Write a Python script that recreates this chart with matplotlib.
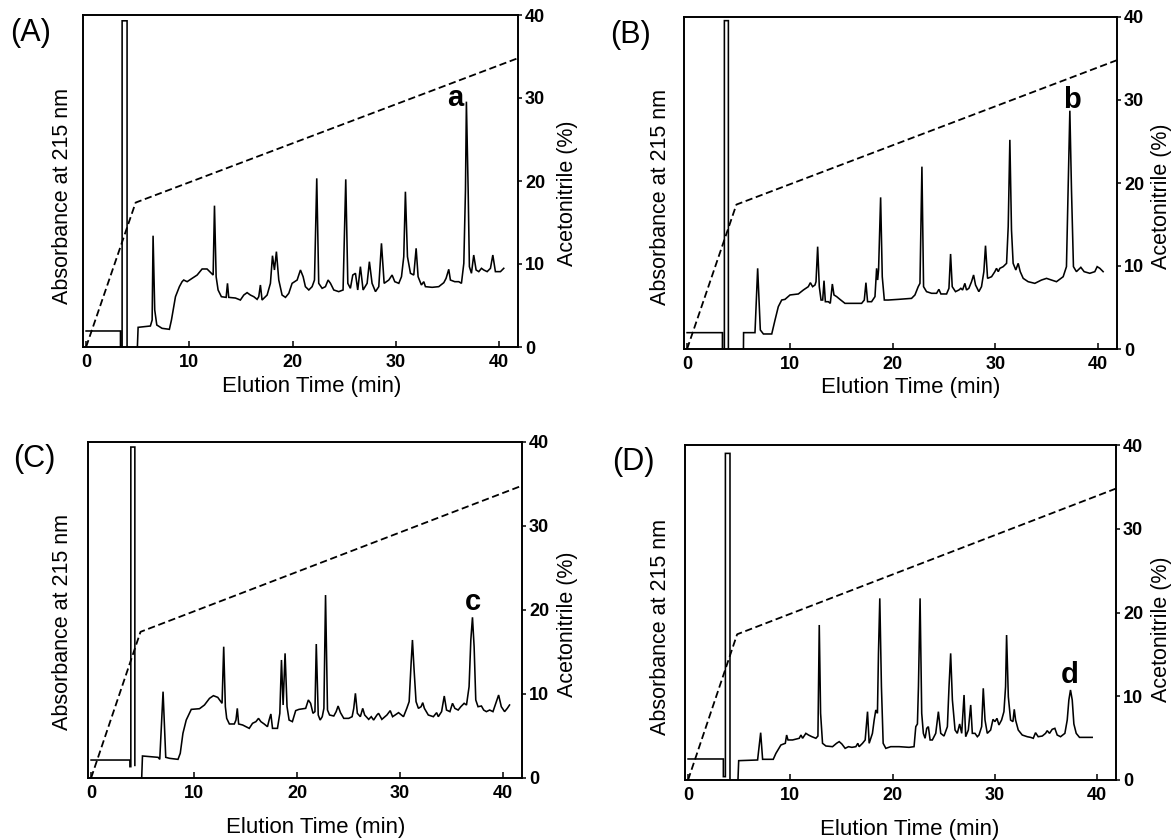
import numpy as np
import matplotlib
matplotlib.use("Agg")
import matplotlib.pyplot as plt

plt.rcParams['font.family'] = ['Liberation Sans', 'DejaVu Sans']

W, H = 1172, 840

# ---------------- data (elution time in min, absorbance in arbitrary units on 0-40 scale) -------------
time_A = [0, 3.33, 3.33, 3.49, 3.49, 3.97, 3.97, 4.94, 5.04, 6.23, 6.40, 6.49, 6.65, 6.85, 7.36, 8.07,
          8.27, 8.66, 9.04, 9.30, 9.46, 9.79, 10.27, 10.76, 11.24, 11.72, 12.14, 12.31, 12.44, 12.60,
          12.79, 13.11, 13.57, 13.70, 13.82, 14.47, 14.95, 15.28, 15.60, 15.92, 16.25, 16.57, 16.73,
          16.89, 17.05, 17.54, 17.86, 18.06, 18.25, 18.44, 18.67, 18.99, 19.32, 19.64, 19.96, 20.45,
          20.77, 21.03, 21.25, 21.58, 21.90, 22.13, 22.35, 22.54, 22.87, 23.19, 23.45, 23.68, 24.00,
          24.48, 24.90, 25.16, 25.36, 25.61, 25.84, 26.10, 26.32, 26.58, 26.84, 27.23, 27.45, 27.71,
          28.04, 28.36, 28.62, 28.88, 29.33, 29.65, 29.91, 30.30, 30.56, 30.78, 30.94, 31.14, 31.43,
          31.75, 31.98, 32.17, 32.49, 32.72, 32.88, 33.53, 34.17, 34.66, 34.88, 35.14, 35.30, 35.72,
          36.11, 36.37, 36.60, 36.76, 36.85, 37.02, 37.14, 37.34, 37.56, 37.79, 38.05, 38.31, 38.53,
          38.86, 39.18, 39.41, 39.66, 40.15, 40.47]
abs_A = [1.93, 1.93, -1, -1, 39.3, 39.3, -1, -1, 2.37, 2.53, 3.25, 13.41, 4.46, 2.65, 2.25, 2.13,
         3.25, 6.06, 7.27, 7.87, 8.07, 7.87, 8.27, 8.67, 9.40, 9.40, 8.88, 8.67, 17.03, 8.47,
         6.87, 6.06, 5.98, 7.67, 5.98, 5.90, 5.66, 6.26, 6.55, 6.26, 6.06, 5.74, 6.06,
         7.47, 5.66, 6.26, 7.67, 11.00, 9.28, 11.49, 8.07, 6.26, 5.98, 6.47, 7.67, 8.07,
         9.28, 8.47, 7.27, 6.87, 7.27, 8.07, 20.32, 7.67, 7.07, 7.27, 8.07, 7.67, 6.87,
         6.67, 6.87, 20.20, 7.67, 7.07, 8.67, 8.88, 6.87, 9.68, 6.87, 7.67, 10.28, 7.67,
         6.67, 7.27, 12.49, 7.67, 8.07, 8.67, 7.87, 7.67, 8.47, 10.88, 18.71, 10.88, 8.88,
         8.67, 11.89, 8.47, 7.47, 7.87, 7.27, 7.19, 7.27, 7.75, 8.27, 9.36, 8.07, 7.87,
         7.87, 7.67, 10.08, 18.92, 29.56, 18.92, 9.68, 8.88, 11.08, 9.28, 9.08, 9.48, 9.28,
         9.08, 9.48, 11.08, 9.08, 9.08, 9.48]

time_B = [0, 3.44, 3.44, 3.63, 3.63, 4.02, 4.02, 5.48, 5.50, 6.61, 6.87, 7.13, 7.43, 8.24, 8.56,
          8.88, 9.21, 9.53, 10.02, 10.83, 11.32, 11.80, 12.00, 12.22, 12.45, 12.55, 12.71, 12.87,
          13.04, 13.20, 13.33, 13.46, 13.75, 13.94, 14.14, 14.30, 14.56, 14.88, 15.37, 16.02, 16.99,
          17.25, 17.41, 17.57, 17.96, 18.29, 18.45, 18.55, 18.64, 18.84, 19.00, 19.20, 19.58, 20.56,
          21.85, 22.18, 22.50, 22.67, 22.86, 23.02, 23.31, 23.80, 24.29, 24.51, 24.71, 25.26, 25.49,
          25.65, 25.81, 26.13, 26.46, 26.65, 26.82, 27.04, 27.20, 27.43, 27.69, 27.89, 28.08, 28.40,
          28.66, 28.89, 29.05, 29.25, 29.64, 29.96, 30.12, 30.29, 30.45, 30.77, 31.10, 31.26, 31.42,
          31.58, 31.74, 32.00, 32.23, 32.43, 32.72, 33.20, 33.85, 34.50, 34.99, 35.47, 35.96, 36.61,
          36.93, 37.09, 37.26, 37.42, 37.61, 37.90, 38.33, 38.65, 39.20, 39.69, 39.92, 40.18, 40.50]
abs_B = [1.97, 1.97, -1, -1, 39.56, 39.56, -1, -1, 1.97, 1.97, 9.72, 2.29, 1.81, 1.81, 3.49,
         5.10, 5.90, 5.98, 6.51, 6.63, 7.11, 7.51, 7.99, 7.51, 7.71, 8.11, 12.33, 7.51,
         5.90, 5.90, 8.23, 5.70, 5.70, 5.50, 7.83, 6.51, 6.31, 5.98, 5.50, 5.50, 5.50,
         5.90, 7.99, 5.70, 5.70, 6.31, 9.72, 8.31, 9.52, 18.27, 8.71, 5.90, 5.90, 5.98,
         6.10, 6.51, 7.51, 7.91, 21.97, 7.51, 6.91, 6.71, 6.71, 7.19, 6.63, 6.63, 7.31,
         11.45, 7.51, 6.91, 7.11, 7.31, 7.11, 7.91, 7.11, 7.31, 8.11, 8.92, 7.71, 6.91,
         7.51, 9.32, 12.45, 8.51, 8.71, 9.32, 9.72, 9.32, 9.72, 9.92, 10.32, 14.74, 25.2,
         14.34, 10.32, 9.52, 10.32, 9.32, 8.51, 8.11, 7.91, 8.31, 8.51, 8.31, 8.11, 8.71,
         9.92, 19.16, 28.71, 19.16, 9.92, 9.32, 9.84, 9.32, 9.12, 9.32, 9.92, 9.72, 9.32]

time_C = [0, 3.77, 3.77, 3.86, 3.86, 4.25, 4.25, 4.25, 4.90, 4.99, 6.51, 6.67, 6.99, 7.25, 7.63,
          8.44, 8.66, 8.92, 9.24, 9.73, 10.53, 11.01, 11.50, 11.88, 12.30, 12.72, 12.88, 13.04,
          13.17, 13.43, 13.91, 14.07, 14.20, 14.33, 14.72, 15.36, 15.68, 16.01, 16.26, 16.49, 16.81,
          17.13, 17.29, 17.46, 17.62, 18.10, 18.33, 18.49, 18.65, 18.84, 19.03, 19.23, 19.55, 19.87,
          20.19, 20.84, 21.10, 21.32, 21.55, 21.74, 21.87, 22.06, 22.25, 22.45, 22.61, 22.77, 22.96,
          23.16, 23.57, 23.80, 23.99, 24.22, 24.54, 25.02, 25.35, 25.51, 25.67, 25.86, 26.15, 26.38,
          26.57, 26.96, 27.21, 27.44, 27.76, 27.92, 28.24, 28.73, 29.05, 29.28, 29.53, 29.86, 30.34,
          30.66, 30.89, 31.08, 31.21, 31.37, 31.56, 31.79, 32.05, 32.21, 32.37, 32.75, 33.24, 33.56,
          33.72, 34.04, 34.30, 34.52, 34.85, 35.10, 35.33, 35.65, 35.91, 36.23, 36.46, 36.71, 36.88,
          37.04, 37.20, 37.36, 37.58, 37.91, 38.13, 38.39, 38.71, 39.03, 39.36, 39.58, 39.84, 40.16,
          40.42, 40.64]
abs_C = [2.14, 2.14, 1.35, 1.35, 39.4, 39.4, 1.5, np.nan, -0.5, 2.62, 2.46, 2.22, 10.28, 2.46, 2.34,
         2.22, 2.94, 5.32, 6.90, 8.17, 8.25, 8.69, 9.48, 9.80, 9.60, 8.89, 15.63, 8.49,
         7.10, 6.43, 6.43, 6.90, 8.29, 6.43, 6.31, 5.91, 6.51, 6.71, 7.10, 6.71, 6.43,
         6.11, 6.90, 7.62, 5.91, 5.91, 7.70, 14.05, 8.69, 14.84, 8.49, 6.90, 6.71, 8.02,
         8.17, 8.29, 9.29, 8.89, 7.70, 7.90, 15.95, 7.50, 6.90, 7.30, 8.29, 21.78, 8.09,
         7.50, 7.38, 7.90, 8.57, 7.78, 7.10, 7.10, 7.30, 8.29, 10.08, 7.70, 7.30, 8.29,
         7.50, 6.98, 7.30, 6.90, 7.50, 7.70, 6.98, 7.50, 8.02, 7.30, 7.50, 7.78, 7.30,
         8.29, 9.09, 13.65, 16.43, 12.86, 9.09, 8.29, 8.49, 8.97, 8.29, 7.50, 7.30, 7.78,
         7.30, 7.90, 9.76, 8.09, 7.90, 8.89, 8.29, 8.09, 8.49, 8.89, 8.69, 10.87, 16.43,
         19.13, 15.63, 9.29, 8.49, 8.57, 8.09, 7.90, 8.09, 7.90, 9.09, 9.88, 8.49, 7.90,
         8.29, 8.69]

time_D = [0, 3.45, 3.45, 3.65, 3.65, 4.10, 4.10, 4.85, 4.95, 6.80, 7.10, 7.29, 8.33, 8.59, 9.08,
          9.51, 9.64, 9.77, 10.22, 10.87, 11.04, 11.20, 11.52, 11.78, 12.11, 12.50, 12.70, 12.83,
          12.96, 13.15, 13.48, 14.13, 14.52, 14.78, 15.04, 15.36, 15.69, 16.02, 16.41, 16.60, 16.73,
          17.06, 17.32, 17.55, 17.71, 18.03, 18.20, 18.36, 18.52, 18.62, 18.75, 18.91, 19.08, 19.34,
          19.82, 20.64, 21.61, 22.10, 22.27, 22.43, 22.53, 22.69, 22.85, 23.01, 23.18, 23.34, 23.50,
          23.67, 23.89, 24.22, 24.48, 24.71, 25.03, 25.36, 25.52, 25.68, 25.85, 26.11, 26.33, 26.56,
          26.76, 26.99, 27.15, 27.41, 27.64, 27.80, 28.06, 28.29, 28.45, 28.71, 28.87, 29.04, 29.26,
          29.59, 29.82, 30.01, 30.21, 30.40, 30.66, 30.89, 31.05, 31.15, 31.32, 31.54, 31.77, 31.90,
          32.03, 32.29, 32.68, 33.17, 33.50, 33.76, 33.98, 34.24, 34.64, 34.96, 35.12, 35.35, 35.61,
          35.87, 36.10, 36.43, 36.85, 37.08, 37.24, 37.40, 37.57, 37.73, 37.96, 38.28, 38.87, 39.52]
abs_D = [2.51, 2.51, 0.4, 0.4, 39.0, 39.0, -1, -1, 2.31, 2.39, 5.65, 2.47, 2.47, 3.18, 4.18,
         4.38, 5.37, 4.78, 4.78, 4.98, 5.37, 4.98, 5.57, 5.37, 5.17, 4.98, 5.25, 18.51,
         7.96, 4.38, 4.06, 3.98, 4.38, 4.58, 4.30, 3.78, 3.98, 3.90, 3.98, 4.38, 3.98,
         4.38, 4.78, 8.16, 4.38, 5.57, 7.16, 8.36, 7.96, 15.12, 21.69, 11.14, 4.38, 3.78,
         3.98, 3.98, 3.90, 3.98, 6.37, 6.69, 11.14, 21.69, 7.96, 5.57, 4.98, 6.17, 6.37,
         4.78, 4.78, 5.57, 8.16, 5.57, 5.25, 6.37, 11.14, 15.12, 9.55, 5.97, 5.57, 6.69,
         5.57, 10.15, 5.17, 5.97, 8.96, 5.57, 5.57, 5.17, 5.37, 6.37, 10.95, 7.16, 5.57,
         5.97, 7.24, 6.97, 7.36, 6.57, 7.16, 8.16, 11.14, 17.31, 9.95, 7.16, 6.97, 8.44,
         7.16, 5.97, 5.37, 5.17, 5.09, 4.98, 5.65, 5.17, 5.25, 5.57, 5.89, 5.57, 6.05,
         6.17, 5.37, 5.17, 5.57, 7.16, 9.55, 10.75, 9.55, 6.69, 5.57, 5.09, 5.09, 5.09]

gradient_time = [0.0, 4.8, 41.85]
gradient_pct = [0.0, 17.4, 34.8]

x_ticks = [0, 10, 20, 30, 40]
acn_ticks = [0, 10, 20, 30, 40]
panel_labels = ['(A)', '(B)', '(C)', '(D)']
peak_labels = ['a', 'b', 'c', 'd']
peak_label_time = [35.8, 37.45, 37.1, 37.3]
peak_label_level = [29.0, 29.0, 20.0, 11.6]

traces = [(time_A, abs_A), (time_B, abs_B), (time_C, abs_C), (time_D, abs_D)]

# ---------------- layout (pixel boxes) ----------------
axes_px = [(83, 518, 15, 347), (684, 1117, 17, 349), (88, 522, 442, 778), (685, 1116, 445, 780)]
panel_lab_px = [(10, 33), (610, 35), (13, 459), (612, 462)]
xlab_px = [(312, 387), (911, 388), (316, 827), (910, 830)]
ylab_px = [(62, 196), (660, 197), (63, 622), (660, 627)]
y2lab_px = [(567, 193), (1161, 196), (568, 624), (1162, 629)]


def fx(px):
    return px / W


def fy(py):
    return 1 - py / H


fig = plt.figure(figsize=(W / 100, H / 100), dpi=100)

for i in range(4):
    l, r, t, b = axes_px[i]
    ax = fig.add_axes([fx(l), fy(b), (r - l) / W, (b - t) / H])
    ax.set_xlim(-0.3, 41.85)
    ax.set_ylim(0, 40)
    tt, aa = traces[i]
    ax.plot(tt, aa, color='black', lw=1.15, solid_joinstyle='miter')
    ax.set_yticks([])
    ax.set_xticks(x_ticks)
    ax.set_xticklabels([str(v) for v in x_ticks], fontsize=13, fontweight='bold')
    ax.tick_params(axis='x', direction='in', length=4.5, width=1.1, pad=5)
    for s in ax.spines.values():
        s.set_linewidth(1.2)

    ax2 = ax.twinx()
    ax2.set_ylim(0, 40)
    ax2.set_yticks(acn_ticks)
    ax2.set_yticklabels([str(v) for v in acn_ticks], fontsize=13, fontweight='bold')
    ax2.tick_params(axis='y', direction='out', length=3, width=1.1, pad=2)
    ax2.plot(gradient_time, gradient_pct, color='black', lw=1.3, dashes=(4, 2))
    ax2.text(peak_label_time[i], peak_label_level[i], peak_labels[i], fontsize=21,
             fontweight='bold', ha='center', va='baseline')
    for s in ax2.spines.values():
        s.set_linewidth(1.2)

    fig.text(fx(panel_lab_px[i][0]), fy(panel_lab_px[i][1]), panel_labels[i], fontsize=22,
             ha='left', va='center')
    fig.text(fx(xlab_px[i][0]), fy(xlab_px[i][1]), 'Elution Time (min)', fontsize=16,
             ha='center', va='center')
    fig.text(fx(ylab_px[i][0]), fy(ylab_px[i][1]), 'Absorbance at 215 nm', fontsize=15.5,
             ha='center', va='center', rotation=90)
    fig.text(fx(y2lab_px[i][0]), fy(y2lab_px[i][1]), 'Acetonitrile (%)', fontsize=15.5,
             ha='center', va='center', rotation=90)

fig.savefig('out.png', dpi=100)
